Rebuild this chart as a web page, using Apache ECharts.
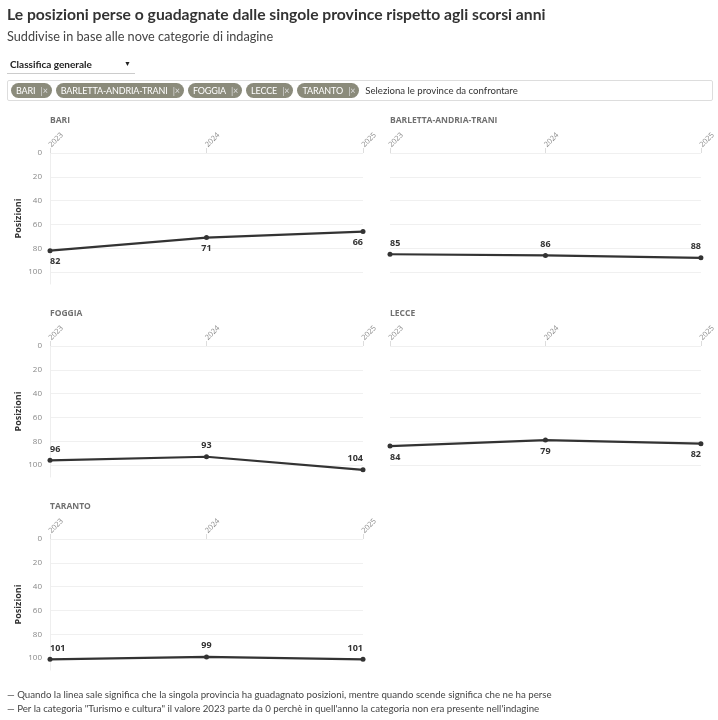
<!DOCTYPE html>
<html><head><meta charset="utf-8">
<script src="https://cdn.jsdelivr.net/npm/echarts@6/dist/echarts.min.js"></script>
<style>
html,body{margin:0;padding:0;background:#fff;width:718px;height:720px;overflow:hidden;font-family:Lato,"Noto Sans",sans-serif;color:#333}
#chart{position:absolute;left:0;top:0;width:718px;height:720px}
.abs{position:absolute;white-space:nowrap}
#title{left:7px;top:5px;font-size:15.7px;font-weight:bold;color:#333}
#sub{left:7px;top:28px;font-size:12.7px;color:#444}
#dd{left:7px;top:56px;width:128px;height:17px;border-bottom:1px solid #ccc;font-size:10px;font-weight:bold;color:#222}
#dd span{position:absolute;left:3px;top:2px}
#dd i{position:absolute;left:117px;top:3px;font-style:normal;font-size:7px}
#tags{left:7px;top:80px;width:706px;height:21px;border:1px solid #ddd;border-radius:2px;display:flex;align-items:center;padding-left:3px;box-sizing:border-box}
.chip{background:#8b8b7b;color:#fff;font-size:9px;letter-spacing:-0.15px;border-radius:8px;height:15px;line-height:15px;padding:0 4px 0 5px;margin-right:4px}
.chip b{font-weight:normal;color:#ddd;margin-left:3px}
#ph{font-size:9.6px;color:#333;margin-left:2px}
.foot{left:7px;font-size:9.7px;color:#444}
</style></head>
<body>
<div id="chart"></div>
<div class="abs" id="title">Le posizioni perse o guadagnate dalle singole province rispetto agli scorsi anni</div>
<div class="abs" id="sub">Suddivise in base alle nove categorie di indagine</div>
<div class="abs" id="dd"><span>Classifica generale</span><i>▼</i></div>
<div class="abs" id="tags"></div>
<div class="abs foot" style="top:688px">— Quando la linea sale significa che la singola provincia ha guadagnato posizioni, mentre quando scende significa che ne ha perse</div>
<div class="abs foot" style="top:702px">— Per la categoria "Turismo e cultura" il valore 2023 parte da 0 perchè in quell'anno la categoria non era presente nell'indagine</div>
<script>
// Data
const years = ['2023', '2024', '2025'];
const provinces = ['BARI', 'BARLETTA-ANDRIA-TRANI', 'FOGGIA', 'LECCE', 'TARANTO'];
const bari = [82, 71, 66];
const barletta = [85, 86, 88];
const foggia = [96, 93, 104];
const lecce = [84, 79, 82];
const taranto = [101, 99, 101];
const yTicks = [0, 20, 40, 60, 80, 100];

const seriesData = [bari, barletta, foggia, lecce, taranto];
// Layout (separate from data)
const labelPos = ['bottom', 'top', 'top', 'bottom', 'top'];
const panels = [
  {left: 50, top: 153}, {left: 390, top: 153},
  {left: 50, top: 346}, {left: 390, top: 346},
  {left: 50, top: 539}
];
const PW = 313, PH = 131;

// tags
const tagsEl = document.getElementById('tags');
provinces.forEach(p => {
  const c = document.createElement('span');
  c.className = 'chip';
  c.innerHTML = p + ' <b>|×</b>';
  tagsEl.appendChild(c);
});
const ph = document.createElement('span');
ph.id = 'ph'; ph.textContent = 'Seleziona le province da confrontare';
tagsEl.appendChild(ph);

const grids = [], xAxes = [], yAxes = [], series = [], titles = [];
provinces.forEach((p, i) => {
  const pn = panels[i];
  const isLeft = pn.left < 100;
  grids.push({left: pn.left, top: pn.top, width: PW, height: PH});
  titles.push({text: p, left: pn.left, top: pn.top - 37, padding: 0,
    textStyle: {fontSize: 8.5, fontWeight: 'bold', color: '#707070', fontFamily: 'Open Sans'}});
  xAxes.push({
    type: 'category', gridIndex: i, position: 'top', data: years, boundaryGap: false,
    axisLine: {show: false},
    axisTick: {show: true, length: 5, lineStyle: {color: '#ddd'}, alignWithLabel: true},
    axisLabel: {rotate: 45, fontSize: 7.5, color: '#888', margin: 7, fontFamily: 'Open Sans'},
    splitLine: {show: false}
  });
  yAxes.push({
    type: 'value', gridIndex: i, inverse: true, min: 0, max: 110, interval: 20,
    name: isLeft ? 'Posizioni' : '', nameLocation: 'middle', nameGap: 27,
    nameTextStyle: {fontSize: 9, fontWeight: 'bold', color: '#333', fontFamily: 'Open Sans'},
    axisLine: {show: isLeft, lineStyle: {color: '#eee'}},
    axisTick: {show: false},
    axisLabel: {show: isLeft, fontSize: 8, color: '#888', margin: 8, fontFamily: 'Open Sans',
      formatter: v => yTicks.indexOf(v) >= 0 ? String(v) : ''},
    splitLine: {show: true, lineStyle: {color: ['#f0f0f0','#f0f0f0','#f0f0f0','#f0f0f0','#f0f0f0','#f0f0f0','rgba(0,0,0,0)'], width: 1}}
  });
  const vals = seriesData[i];
  series.push({
    type: 'line', xAxisIndex: i, yAxisIndex: i,
    data: vals.map((v, k) => ({value: v, label: {align: k === 0 ? 'left' : (k === vals.length - 1 ? 'right' : 'center')}})),
    symbol: 'circle', symbolSize: 5,
    lineStyle: {color: '#333', width: 2.2},
    itemStyle: {color: '#333'},
    label: {show: true, position: labelPos[i], fontSize: 9, fontWeight: 'bold', color: '#333', distance: 4, fontFamily: 'Open Sans'},
    animation: false
  });
});

const chart = echarts.init(document.getElementById('chart'));
chart.setOption({
  animation: false,
  title: titles, grid: grids, xAxis: xAxes, yAxis: yAxes, series: series
});
</script>
</body></html>
